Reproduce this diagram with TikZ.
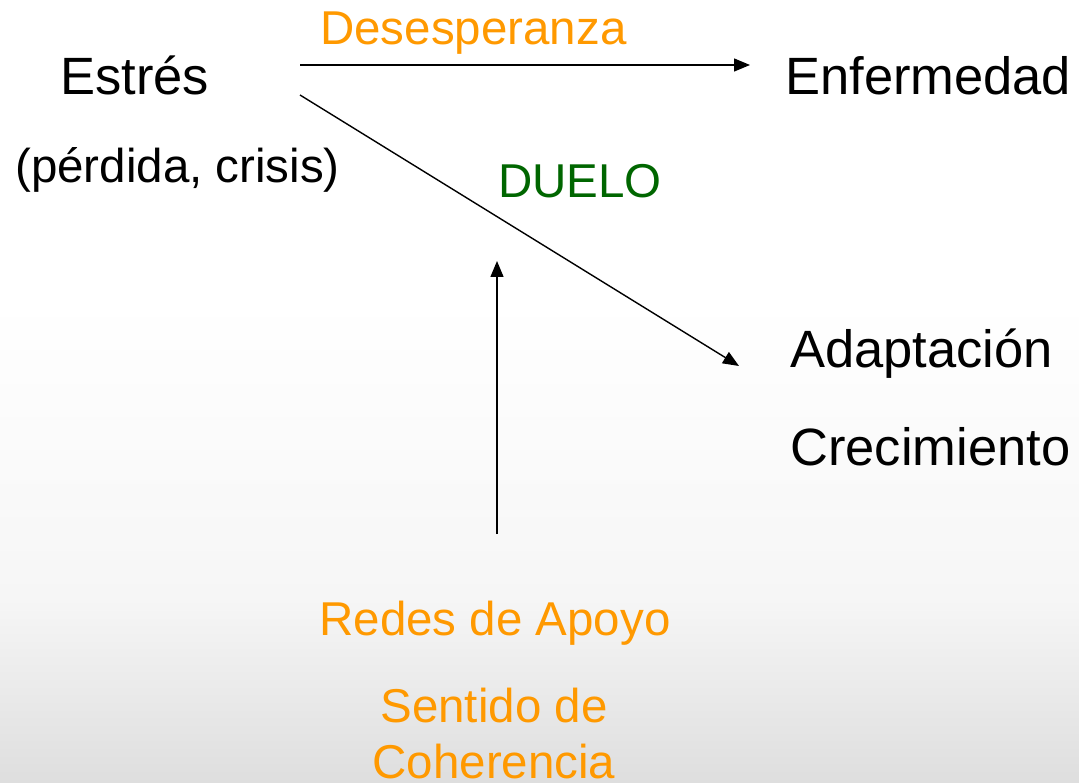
\documentclass[tikz,border=0pt]{standalone}
\usepackage{fontspec}
\setmainfont{Liberation Sans}
\usetikzlibrary{arrows.meta}
\definecolor{orng}{HTML}{FF9900}
\definecolor{grn}{HTML}{006600}
\definecolor{bggray}{RGB}{222,222,222}
\definecolor{bglight}{RGB}{246,246,246}
\tikzset{
  big/.style={inner sep=0pt, font=\fontsize{52.5}{60}\selectfont, text=black},
  mid/.style={inner sep=0pt, font=\fontsize{47.5}{55}\selectfont},
  small/.style={inner sep=0pt, font=\fontsize{47.5}{55}\selectfont, text=black},
  conn/.style={line width=1.4pt, -{Triangle[length=16pt,width=13pt]}}
}
\begin{document}
\begin{tikzpicture}[x=1pt,y=-1pt]
  \useasboundingbox (0,0) rectangle (1079,783);
  \fill[white] (0,0) rectangle (1079,783);
  \shade[top color=white, bottom color=bglight] (0,300) rectangle (1079,600);
  \shade[top color=bglight, bottom color=bggray] (0,599) rectangle (1079,783);
  % texts
  \node[big, anchor=base west] (estres) at (60,95) {Estrés};
  \node[small, anchor=base west] (perdida) at (15,183) {(pérdida, crisis)};
  \node[big, anchor=base west] (enf) at (785,95) {Enfermedad};
  \node[mid, text=orng, anchor=base west] (desesp) at (320,45) {Desesperanza};
  \node[mid, text=grn, anchor=base west] (duelo) at (498,198) {DUELO};
  \node[big, anchor=base west] (adapt) at (790,368) {Adaptación};
  \node[big, anchor=base west] (crec) at (790,465) {Crecimiento};
  \node[mid, text=orng, anchor=base] (redes) at (495,635) {Redes de Apoyo};
  \node[mid, text=orng, anchor=base] (sentido) at (494,722) {Sentido de};
  \node[mid, text=orng, anchor=base] (coher) at (494,778) {Coherencia};
  % connector endpoints
  \coordinate (h1) at (300,65);
  \coordinate (h2) at (750,65);
  \coordinate (d1) at (300,95);
  \coordinate (d2) at (739,366);
  \coordinate (v1) at (497,534);
  \coordinate (v2) at (497,261);
  \draw[conn] (h1) -- (h2);
  \draw[conn] (d1) -- (d2);
  \draw[conn] (v1) -- (v2);
\end{tikzpicture}
\end{document}
